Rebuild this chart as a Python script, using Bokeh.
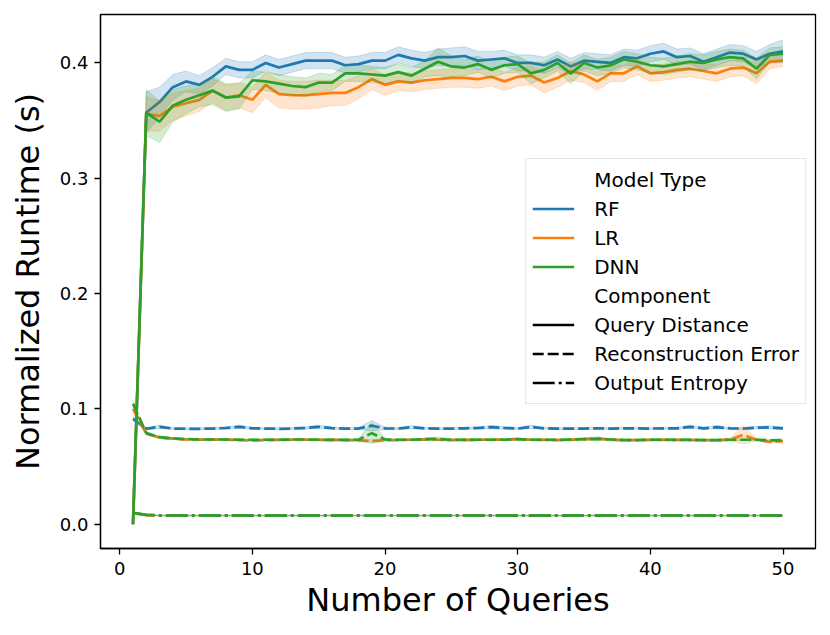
import numpy as np
from bokeh.plotting import figure
from bokeh.models import Range1d, FixedTicker, Legend, LegendItem, PrintfTickFormatter
from bokeh.embed import file_html
from bokeh.resources import INLINE

# ---------------- data ----------------
QUERIES = list(range(1, 51))
MODELS = ["RF", "LR", "DNN"]
COMPONENTS = ["Query Distance", "Reconstruction Error", "Output Entropy"]

RF_QD = [0.0, 0.357, 0.366, 0.379, 0.384, 0.381, 0.388, 0.397, 0.394, 0.394,
         0.400, 0.396, 0.399, 0.402, 0.402, 0.402, 0.398, 0.399, 0.402, 0.402,
         0.407, 0.404, 0.402, 0.405, 0.405, 0.406, 0.402, 0.403, 0.404, 0.400,
         0.400, 0.398, 0.403, 0.397, 0.402, 0.401, 0.400, 0.405, 0.404, 0.408,
         0.410, 0.405, 0.406, 0.401, 0.405, 0.409, 0.408, 0.403, 0.408, 0.410]
LR_QD = [0.0, 0.356, 0.354, 0.362, 0.365, 0.368, 0.376, 0.370, 0.372, 0.368,
         0.381, 0.373, 0.372, 0.372, 0.373, 0.374, 0.374, 0.379, 0.386, 0.381,
         0.384, 0.383, 0.385, 0.386, 0.387, 0.387, 0.386, 0.388, 0.384, 0.388,
         0.389, 0.383, 0.387, 0.393, 0.390, 0.384, 0.391, 0.391, 0.397, 0.391,
         0.392, 0.394, 0.395, 0.393, 0.391, 0.395, 0.396, 0.391, 0.401, 0.402]
DNN_QD = [0.0, 0.357, 0.349, 0.363, 0.368, 0.372, 0.376, 0.370, 0.371, 0.385,
          0.384, 0.382, 0.380, 0.379, 0.383, 0.383, 0.391, 0.391, 0.390, 0.389,
          0.392, 0.389, 0.395, 0.401, 0.397, 0.396, 0.399, 0.394, 0.398, 0.399,
          0.391, 0.394, 0.400, 0.391, 0.400, 0.396, 0.398, 0.403, 0.401, 0.398,
          0.397, 0.399, 0.401, 0.400, 0.403, 0.405, 0.404, 0.395, 0.407, 0.408]

RF_QD_CI = [0.0, 0.018, 0.013, 0.011, 0.009, 0.008, 0.008, 0.007, 0.007, 0.007,
            0.007, 0.007, 0.007, 0.007, 0.007, 0.007, 0.007, 0.007, 0.007, 0.007,
            0.007, 0.007, 0.007, 0.007, 0.008, 0.008, 0.008, 0.007, 0.007, 0.007,
            0.007, 0.007, 0.007, 0.007, 0.007, 0.007, 0.007, 0.007, 0.007, 0.007,
            0.007, 0.007, 0.007, 0.007, 0.007, 0.007, 0.007, 0.007, 0.008, 0.010]
LR_QD_CI = [0.0, 0.015, 0.013, 0.012, 0.011, 0.010, 0.010, 0.011, 0.011, 0.011,
            0.011, 0.012, 0.012, 0.012, 0.012, 0.011, 0.011, 0.010, 0.009, 0.009,
            0.008, 0.008, 0.008, 0.008, 0.008, 0.008, 0.008, 0.008, 0.008, 0.008,
            0.008, 0.009, 0.008, 0.008, 0.007, 0.008, 0.007, 0.007, 0.007, 0.007,
            0.007, 0.007, 0.007, 0.007, 0.007, 0.007, 0.007, 0.009, 0.006, 0.005]
DNN_QD_CI = [0.0, 0.020, 0.018, 0.014, 0.012, 0.010, 0.012, 0.012, 0.011, 0.008,
             0.008, 0.008, 0.008, 0.008, 0.008, 0.007, 0.007, 0.007, 0.007, 0.007,
             0.007, 0.007, 0.007, 0.012, 0.009, 0.007, 0.007, 0.007, 0.007, 0.007,
             0.009, 0.007, 0.007, 0.009, 0.007, 0.007, 0.007, 0.007, 0.007, 0.007,
             0.007, 0.007, 0.007, 0.007, 0.007, 0.007, 0.007, 0.009, 0.006, 0.006]

RF_RE = [0.0915, 0.0828, 0.0845, 0.0830, 0.0828, 0.0828, 0.0830, 0.0835, 0.0845, 0.0832,
         0.0830, 0.0828, 0.0830, 0.0835, 0.0845, 0.0833, 0.0830, 0.0830, 0.0855, 0.0832,
         0.0830, 0.0842, 0.0832, 0.0830, 0.0830, 0.0832, 0.0835, 0.0842, 0.0835, 0.0830,
         0.0845, 0.0832, 0.0830, 0.0830, 0.0830, 0.0832, 0.0830, 0.0832, 0.0832, 0.0830,
         0.0832, 0.0832, 0.0845, 0.0832, 0.0842, 0.0832, 0.0830, 0.0838, 0.0840, 0.0832]
LR_RE = [0.1000, 0.0785, 0.0752, 0.0742, 0.0735, 0.0733, 0.0735, 0.0733, 0.0730, 0.0725,
         0.0730, 0.0732, 0.0733, 0.0733, 0.0733, 0.0732, 0.0730, 0.0728, 0.0722, 0.0728,
         0.0730, 0.0733, 0.0735, 0.0733, 0.0730, 0.0732, 0.0733, 0.0733, 0.0735, 0.0738,
         0.0733, 0.0732, 0.0730, 0.0732, 0.0738, 0.0745, 0.0733, 0.0730, 0.0730, 0.0732,
         0.0733, 0.0732, 0.0730, 0.0730, 0.0728, 0.0735, 0.0775, 0.0733, 0.0715, 0.0720]
DNN_RE = [0.1045, 0.0790, 0.0755, 0.0745, 0.0738, 0.0735, 0.0735, 0.0735, 0.0733, 0.0733,
          0.0733, 0.0733, 0.0735, 0.0735, 0.0733, 0.0732, 0.0732, 0.0733, 0.0790, 0.0735,
          0.0733, 0.0733, 0.0738, 0.0740, 0.0733, 0.0732, 0.0733, 0.0733, 0.0733, 0.0738,
          0.0733, 0.0733, 0.0732, 0.0735, 0.0738, 0.0740, 0.0735, 0.0730, 0.0730, 0.0733,
          0.0733, 0.0732, 0.0733, 0.0730, 0.0730, 0.0733, 0.0733, 0.0733, 0.0728, 0.0730]

RF_RE_CI = [0.0020, 0.0010, 0.0015, 0.0008, 0.0008, 0.0008, 0.0008, 0.0010, 0.0015, 0.0008,
            0.0008, 0.0008, 0.0008, 0.0010, 0.0015, 0.0008, 0.0008, 0.0010, 0.0045, 0.0010,
            0.0008, 0.0015, 0.0008, 0.0008, 0.0008, 0.0008, 0.0010, 0.0015, 0.0010, 0.0008,
            0.0015, 0.0008, 0.0008, 0.0008, 0.0008, 0.0008, 0.0008, 0.0008, 0.0008, 0.0008,
            0.0008, 0.0008, 0.0015, 0.0008, 0.0015, 0.0008, 0.0008, 0.0012, 0.0014, 0.0010]
LR_RE_CI = [0.0030, 0.0012, 0.0010, 0.0008, 0.0008, 0.0008, 0.0008, 0.0008, 0.0008, 0.0008,
            0.0008, 0.0008, 0.0008, 0.0008, 0.0008, 0.0008, 0.0008, 0.0008, 0.0010, 0.0008,
            0.0008, 0.0008, 0.0008, 0.0008, 0.0008, 0.0008, 0.0008, 0.0008, 0.0008, 0.0010,
            0.0008, 0.0008, 0.0008, 0.0008, 0.0010, 0.0015, 0.0008, 0.0008, 0.0008, 0.0008,
            0.0008, 0.0008, 0.0008, 0.0008, 0.0008, 0.0010, 0.0080, 0.0010, 0.0008, 0.0008]
DNN_RE_CI = [0.0030, 0.0012, 0.0010, 0.0008, 0.0008, 0.0008, 0.0008, 0.0008, 0.0008, 0.0008,
             0.0008, 0.0008, 0.0008, 0.0008, 0.0008, 0.0008, 0.0008, 0.0010, 0.0090, 0.0010,
             0.0008, 0.0008, 0.0012, 0.0015, 0.0008, 0.0008, 0.0008, 0.0008, 0.0008, 0.0010,
             0.0008, 0.0008, 0.0008, 0.0008, 0.0010, 0.0012, 0.0008, 0.0008, 0.0008, 0.0008,
             0.0008, 0.0008, 0.0008, 0.0008, 0.0008, 0.0008, 0.0008, 0.0008, 0.0008, 0.0008]

RF_OE = [0.0098, 0.0082, 0.0077, 0.0077, 0.0077, 0.0077, 0.0077, 0.0077, 0.0077, 0.0077,
         0.0077, 0.0077, 0.0077, 0.0077, 0.0077, 0.0077, 0.0077, 0.0077, 0.0077, 0.0077,
         0.0077, 0.0077, 0.0077, 0.0077, 0.0077, 0.0077, 0.0077, 0.0077, 0.0077, 0.0077,
         0.0077, 0.0077, 0.0077, 0.0077, 0.0077, 0.0077, 0.0077, 0.0077, 0.0077, 0.0077,
         0.0077, 0.0077, 0.0077, 0.0077, 0.0077, 0.0077, 0.0077, 0.0077, 0.0077, 0.0077]
LR_OE = [0.0096, 0.0080, 0.0075, 0.0074, 0.0074, 0.0074, 0.0074, 0.0074, 0.0074, 0.0074,
         0.0074, 0.0074, 0.0074, 0.0074, 0.0074, 0.0074, 0.0074, 0.0074, 0.0074, 0.0074,
         0.0074, 0.0074, 0.0074, 0.0074, 0.0074, 0.0074, 0.0074, 0.0074, 0.0074, 0.0074,
         0.0074, 0.0074, 0.0074, 0.0074, 0.0074, 0.0074, 0.0074, 0.0074, 0.0074, 0.0074,
         0.0074, 0.0074, 0.0074, 0.0074, 0.0074, 0.0074, 0.0074, 0.0074, 0.0074, 0.0074]
DNN_OE = [0.0100, 0.0082, 0.0076, 0.0075, 0.0075, 0.0075, 0.0075, 0.0075, 0.0075, 0.0075,
          0.0075, 0.0075, 0.0075, 0.0075, 0.0075, 0.0075, 0.0075, 0.0075, 0.0075, 0.0075,
          0.0075, 0.0075, 0.0075, 0.0075, 0.0075, 0.0075, 0.0075, 0.0075, 0.0075, 0.0075,
          0.0075, 0.0075, 0.0075, 0.0075, 0.0075, 0.0075, 0.0075, 0.0075, 0.0075, 0.0075,
          0.0075, 0.0075, 0.0075, 0.0075, 0.0075, 0.0075, 0.0075, 0.0075, 0.0075, 0.0075]
OE_CI = [0.0006, 0.0004, 0.0003, 0.0003, 0.0003, 0.0003, 0.0003, 0.0003, 0.0003, 0.0003,
         0.0003, 0.0003, 0.0003, 0.0003, 0.0003, 0.0003, 0.0003, 0.0003, 0.0003, 0.0003,
         0.0003, 0.0003, 0.0003, 0.0003, 0.0003, 0.0003, 0.0003, 0.0003, 0.0003, 0.0003,
         0.0003, 0.0003, 0.0003, 0.0003, 0.0003, 0.0003, 0.0003, 0.0003, 0.0003, 0.0003,
         0.0003, 0.0003, 0.0003, 0.0003, 0.0003, 0.0003, 0.0003, 0.0003, 0.0003, 0.0003]

X_TICKS = [0, 10, 20, 30, 40, 50]
Y_TICKS = [0.0, 0.1, 0.2, 0.3, 0.4]

SERIES = {
    ("RF", "Query Distance"): (RF_QD, RF_QD_CI),
    ("RF", "Reconstruction Error"): (RF_RE, RF_RE_CI),
    ("RF", "Output Entropy"): (RF_OE, OE_CI),
    ("LR", "Query Distance"): (LR_QD, LR_QD_CI),
    ("LR", "Reconstruction Error"): (LR_RE, LR_RE_CI),
    ("LR", "Output Entropy"): (LR_OE, OE_CI),
    ("DNN", "Query Distance"): (DNN_QD, DNN_QD_CI),
    ("DNN", "Reconstruction Error"): (DNN_RE, DNN_RE_CI),
    ("DNN", "Output Entropy"): (DNN_OE, OE_CI),
}

# ---------------- styles ----------------
COLORS = {"RF": "#1f77b4", "LR": "#ff7f0e", "DNN": "#2ca02c"}
DASHES = {"Query Distance": "solid", "Reconstruction Error": "11 4",
          "Output Entropy": "22 4 3 4"}
LW = 2.7
FONT = "DejaVu Sans"

p = figure(width=830, height=635,
           x_range=Range1d(-1.45, 52.45), y_range=Range1d(-0.021, 0.442),
           output_backend="svg", toolbar_location=None,
           min_border_left=100, min_border_right=15,
           min_border_top=14, min_border_bottom=87)
p.grid.visible = False
p.outline_line_color = "black"
p.outline_line_width = 1.3
p.outline_line_alpha = 1.0
p.background_fill_color = "white"
p.border_fill_color = "white"

x = np.array(QUERIES, dtype=float)
for m in MODELS:
    for c in COMPONENTS:
        vals, ci = SERIES[(m, c)]
        y = np.array(vals)
        e = np.array(ci)
        p.varea(x=x, y1=y - e, y2=y + e, fill_color=COLORS[m], fill_alpha=0.2)
        p.line(x, y - e, line_color=COLORS[m], line_alpha=0.2, line_width=1)
        p.line(x, y + e, line_color=COLORS[m], line_alpha=0.2, line_width=1)
        p.line(x, y, line_color=COLORS[m], line_width=LW, line_dash=DASHES[c])

# axes
p.xaxis.ticker = FixedTicker(ticks=X_TICKS)
p.yaxis.ticker = FixedTicker(ticks=Y_TICKS)
p.yaxis.formatter = PrintfTickFormatter(format="%.1f")
for ax in (p.xaxis, p.yaxis):
    ax.axis_line_color = "black"
    ax.axis_line_width = 1.3
    ax.major_tick_line_color = "black"
    ax.major_tick_line_width = 1.3
    ax.major_tick_out = 6
    ax.major_tick_in = 0
    ax.minor_tick_line_color = None
    ax.major_label_text_font = FONT
    ax.major_label_text_font_size = "18px"
    ax.major_label_text_color = "black"
    ax.axis_label_text_font = FONT
    ax.axis_label_text_font_size = "32px"
    ax.axis_label_text_font_style = "normal"
    ax.axis_label_text_color = "black"
p.xaxis.axis_label = "Number of Queries"
p.yaxis.axis_label = "Normalized Runtime (s)"
p.xaxis.major_label_standoff = 7
p.yaxis.major_label_standoff = 6
p.xaxis.axis_label_standoff = 3
p.yaxis.axis_label_standoff = 10

# legend (helper renderers hold a single NaN so nothing is drawn in the plot)
NAN = [float("nan")]
items = []
hdr1 = p.line(NAN, NAN, line_alpha=0)
items.append(LegendItem(label="Model Type", renderers=[hdr1]))
for m in MODELS:
    r = p.line(NAN, NAN, line_color=COLORS[m], line_width=LW)
    items.append(LegendItem(label=m, renderers=[r]))
hdr2 = p.line(NAN, NAN, line_alpha=0)
items.append(LegendItem(label="Component", renderers=[hdr2]))
for c in COMPONENTS:
    r = p.line(NAN, NAN, line_color="black", line_width=LW, line_dash=DASHES[c])
    items.append(LegendItem(label=c, renderers=[r]))

legend = Legend(items=items, location="right", margin=9)
legend.label_text_font = FONT
legend.label_text_font_size = "20px"
legend.label_text_color = "black"
legend.glyph_width = 42
legend.glyph_height = 29
legend.label_height = 29
legend.spacing = 0
legend.padding = 6
legend.label_standoff = 20
legend.border_line_color = "#cccccc"
legend.border_line_width = 1.2
legend.background_fill_color = "white"
legend.background_fill_alpha = 0.8
p.add_layout(legend)

open("out.html", "w").write(file_html(p, INLINE))
